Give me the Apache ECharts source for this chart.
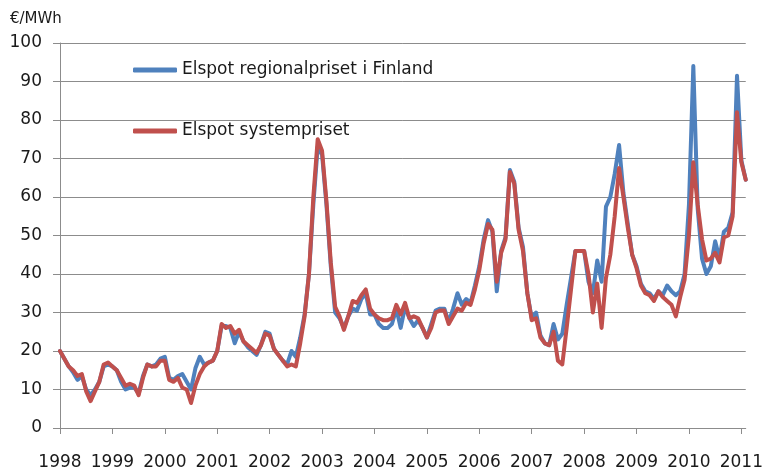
<!DOCTYPE html>
<html>
<head>
<meta charset="UTF-8">
<title>Elspot</title>
<script src="https://cdn.jsdelivr.net/npm/echarts@6/dist/echarts.min.js"></script>
<style>html,body{margin:0;padding:0;background:#fff;}</style>
</head>
<body>
<div id="chart" style="width:766px;height:472px;"></div>
<script type="text/javascript">
var firstYear = 1998;
var lastYear = 2011;
var monthsInLastYear = 2;

var seriesNames = ['Elspot regionalpriset i Finland', 'Elspot systempriset'];

// Finland, monthly, Jan 1998 - Feb 2011
var finland = [
    20, 18, 16, 14.5, 12.5, 13.5, 10, 8.5, 10, 12, 16, 16.5,
    16, 15, 12, 10, 10.5, 10.5, 9, 13.5, 16.5, 16, 16.5, 18,
    18.5, 13, 12.5, 13.5, 14, 12, 10, 15.5, 18.5, 16.5, 17, 17.5,
    20, 26.5, 26.5, 26, 22, 25, 22.5, 21, 20, 19, 21.5, 25,
    24.5, 20.5, 19, 17.5, 16.5, 20, 18.5, 23.5, 29.5, 40, 58, 73,
    71, 58, 42, 30, 28.5, 26, 29, 31, 30.5, 33.5, 35, 29.5,
    29.5, 27, 26, 26, 27, 31, 26, 31.5, 28.5, 26.5, 28, 26,
    23.5, 27, 30.5, 31, 31, 27.5, 31, 35, 32, 33.5, 32.5, 37,
    42, 49, 54, 51, 35.5, 46, 49.5, 67, 64, 52, 47, 35,
    28.5, 30, 24, 22, 21.5, 27, 23, 24.5, 32, 39, 46, 46,
    46, 38, 35, 43.5, 38, 57.5, 60, 66, 73.5, 61, 53, 45,
    42, 37.5, 35.5, 35, 33.5, 35.5, 34.5, 37, 35.5, 34.5, 35.5, 40,
    58, 94, 57, 44, 40, 42, 48.5, 44, 51, 52, 56, 91.5,
    69.5, 64.5
];

// system price, monthly, Jan 1998 - Feb 2011
var system = [
    20, 18, 16, 15, 13.5, 14, 9.5, 7, 9.5, 12, 16.5, 17,
    16, 15, 13, 11, 11.5, 11, 8.5, 13, 16.5, 16, 16, 17.5,
    17.5, 12.5, 12, 13, 10.5, 10, 6.5, 11, 14, 16, 17, 17.5,
    20, 27, 26, 26.5, 24.5, 25.5, 22.5, 21.5, 20.5, 19.5, 21.5, 24.5,
    24, 20.5, 19, 17.5, 16, 16.5, 16, 22, 29, 40, 60, 75,
    72, 59, 43, 31.5, 29, 25.5, 29, 33, 32.5, 34.5, 36, 31,
    29.5, 28.5, 28, 28, 28.5, 32, 29.5, 32.5, 28.5, 29, 28.5, 26,
    23.5, 26, 30, 30.5, 30.5, 27, 29, 31, 30.5, 32.5, 32, 36,
    41, 48, 53, 51.5, 38, 45.5, 49, 66.5, 63.5, 51.5, 46, 35,
    28, 28.5, 23.5, 22, 21.5, 25, 17.5, 16.5, 26, 36, 46, 46,
    46, 40, 30, 37.5, 26, 39, 45, 55, 67.5, 60, 52, 45,
    41.5, 37, 35, 34.5, 33, 35.5, 34, 33, 32, 29, 34, 38.5,
    50, 69, 58, 49, 43.5, 44, 45.5, 43, 49.5, 50, 55, 82,
    69, 64.5
];

var months = [];
for (var y = firstYear; y <= lastYear; y++) {
    var n = (y === lastYear) ? monthsInLastYear : 12;
    for (var m = 1; m <= n; m++) {
        months.push(y + '-' + (m < 10 ? '0' + m : m));
    }
}

function isJanuary(index, value) {
    return value.slice(5) === '01';
}

var font = '"DejaVu Sans", sans-serif';
var textColor = '#1a1a1a';
var gridColor = '#8c8c8c';

var chart = echarts.init(document.getElementById('chart'));
chart.setOption({
    animation: false,
    color: ['#4f81bd', '#c0504d'],
    grid: {
        left: 60,
        right: 18,
        top: 43,
        bottom: 44
    },
    graphic: [{
        type: 'text',
        left: 10,
        top: 12,
        style: {
            text: '€/MWh',
            font: '15px ' + font,
            fill: textColor
        }
    }],
    legend: {
        orient: 'vertical',
        left: 128,
        top: 55,
        itemWidth: 44,
        itemHeight: 5,
        itemGap: 41,
        icon: 'roundRect',
        textStyle: {
            fontFamily: font,
            fontSize: 17,
            lineHeight: 20,
            color: textColor
        },
        data: seriesNames
    },
    xAxis: {
        type: 'category',
        boundaryGap: false,
        data: months,
        axisLine: { lineStyle: { color: gridColor } },
        axisTick: {
            interval: isJanuary,
            length: 6,
            lineStyle: { color: gridColor }
        },
        axisLabel: {
            interval: isJanuary,
            margin: 26,
            fontFamily: font,
            fontSize: 17,
            color: textColor,
            formatter: function (v) { return v.slice(0, 4); }
        },
        splitLine: { show: false }
    },
    yAxis: {
        type: 'value',
        min: 0,
        max: 100,
        interval: 10,
        axisLine: { show: true, lineStyle: { color: gridColor } },
        axisTick: { show: true, length: 7, lineStyle: { color: gridColor } },
        axisLabel: {
            margin: 18,
            fontFamily: font,
            fontSize: 17,
            color: textColor
        },
        splitLine: { lineStyle: { color: gridColor, width: 1 } }
    },
    series: [{
        name: seriesNames[0],
        type: 'line',
        data: finland,
        showSymbol: false,
        lineStyle: { width: 4, cap: 'round', join: 'round' }
    }, {
        name: seriesNames[1],
        type: 'line',
        data: system,
        showSymbol: false,
        lineStyle: { width: 4, cap: 'round', join: 'round' }
    }]
});
</script>
</body>
</html>
